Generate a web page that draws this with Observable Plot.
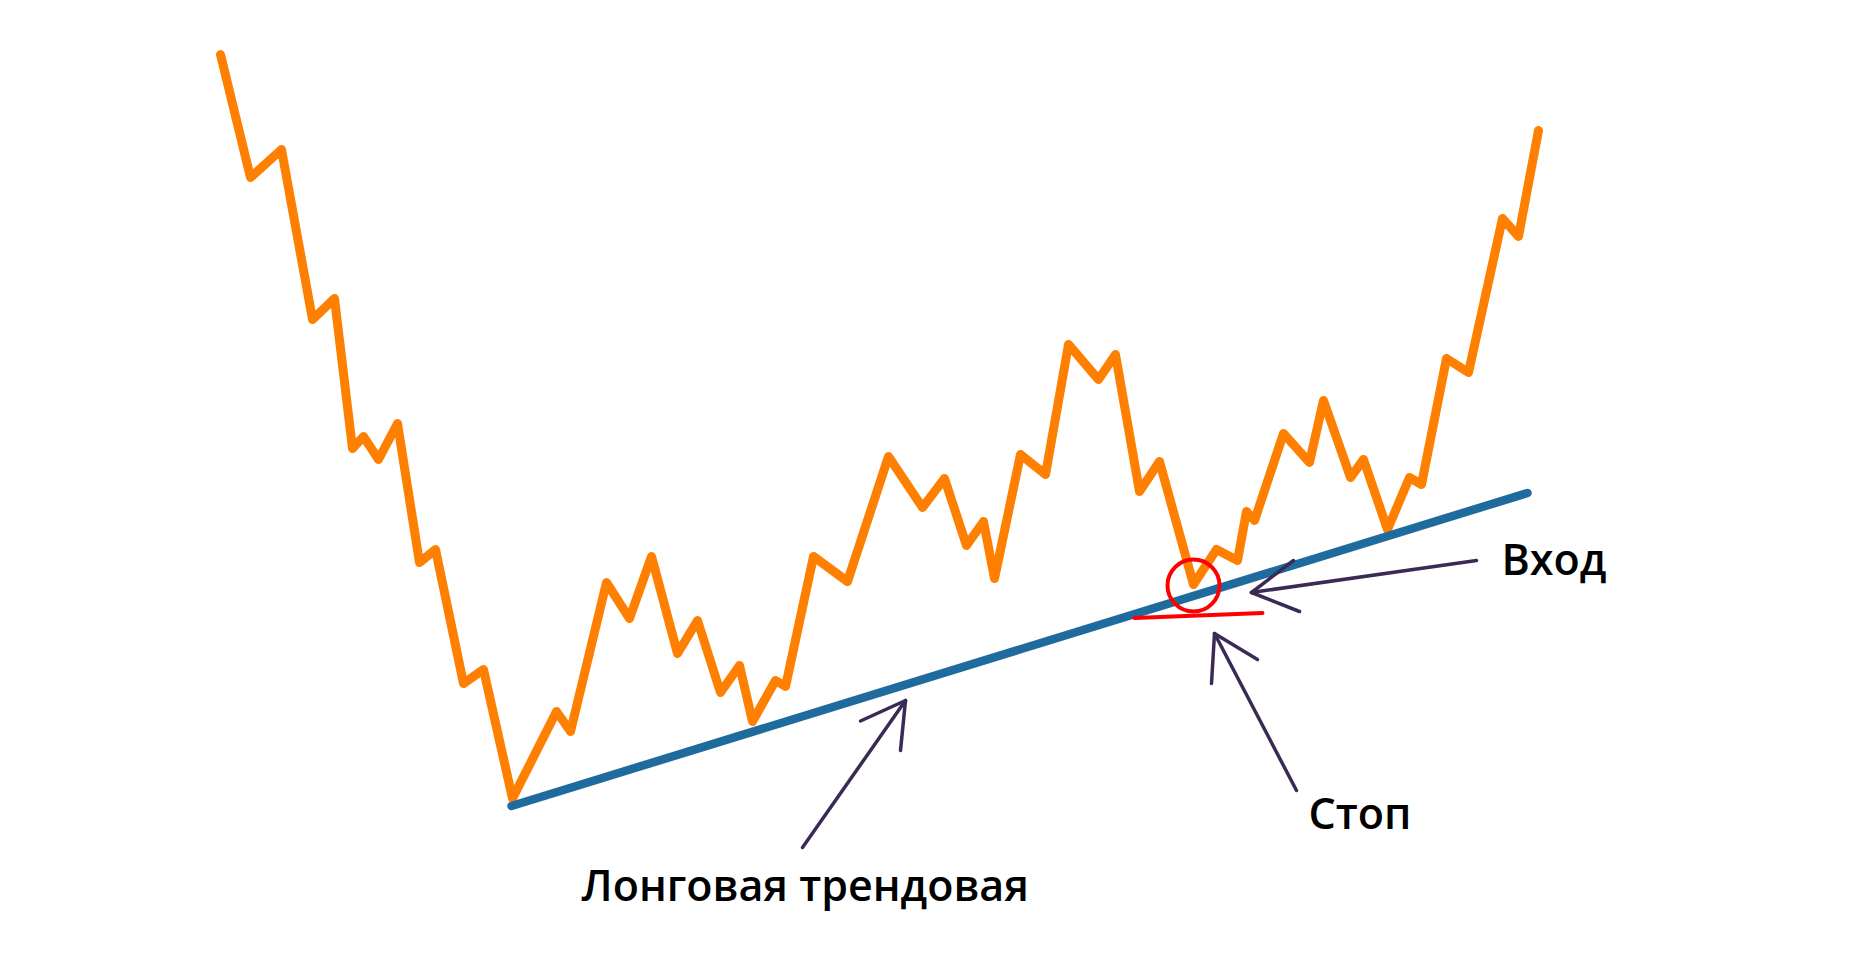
<!DOCTYPE html>
<html>
<head>
<meta charset="utf-8">
<script src="https://cdn.jsdelivr.net/npm/d3@7"></script>
<script src="https://cdn.jsdelivr.net/npm/@observablehq/plot@0.6"></script>
<style>
  html, body { margin: 0; padding: 0; background: #fff; }
  #chart { width: 1852px; height: 961px; }
</style>
</head>
<body>
<div id="chart"></div>
<script>
// Price path (time, price)
const priceTime = [220, 250, 281, 312, 334, 352, 363, 378, 397, 419, 435, 463, 483, 512, 556, 570, 606, 629, 651, 677, 697, 720, 739, 752, 775, 785, 813, 847, 888, 922, 944, 966, 983, 994, 1020, 1045, 1068, 1098, 1115, 1139, 1159, 1193, 1216, 1237, 1246, 1254, 1283, 1309, 1323, 1350, 1363, 1387, 1409, 1421, 1446, 1468, 1502, 1518, 1538];
const priceValue = [907, 784, 812, 642, 663, 513, 525, 502, 538, 399, 412, 278, 292, 163, 250, 230, 379, 343, 405, 308, 341, 269, 296, 240, 281, 275, 405, 380, 505, 454, 483, 416, 440, 383, 507, 487, 617, 582, 607, 470, 500, 377, 412, 401, 450, 441, 528, 499, 561, 484, 502, 432, 484, 477, 603, 589, 743, 725, 831];

// Long trend line (two anchor points)
const trendTime = [511, 1527];
const trendValue = [155.5, 468.5];

// Stop level (red line) and entry marker (red circle)
const stopTime = [1134, 1262];
const stopValue = [343.5, 348.5];
const entryTime = [1193];
const entryValue = [376];

// Arrow segments: [x1, y1, x2, y2]
const arrowSegments = [
  // arrow to trend line
  [802, 114, 905, 261], [905, 261, 860, 240.5], [905, 261, 900, 211],
  // arrow to stop
  [1296, 171, 1214, 328], [1214, 328, 1257, 302], [1214, 328, 1211, 278],
  // arrow to entry
  [1476, 401, 1251, 369], [1251, 369, 1293, 401], [1251, 369, 1299, 350]
];

// Labels
const labelText = ["Лонговая трендовая", "Стоп", "Вход"];
const labelTime = [581, 1308, 1501];
const labelValue = [74, 146.5, 400];

const price = priceTime.map((t, i) => ({t, v: priceValue[i]}));
const trend = trendTime.map((t, i) => ({t, v: trendValue[i]}));
const stop = stopTime.map((t, i) => ({t, v: stopValue[i]}));
const entry = entryTime.map((t, i) => ({t, v: entryValue[i]}));
const arrows = arrowSegments.map(([x1, y1, x2, y2]) => ({x1, y1, x2, y2}));
const labels = labelText.map((s, i) => ({s, t: labelTime[i], v: labelValue[i]}));

const chart = Plot.plot({
  width: 1852,
  height: 961,
  margin: 0,
  x: {domain: [0, 1852], axis: null},
  y: {domain: [0, 961], axis: null},
  style: {background: "#fff", fontFamily: "'Open Sans', 'Noto Sans', sans-serif"},
  marks: [
    Plot.line(price, {x: "t", y: "v", stroke: "#ff7f00", strokeWidth: 9, strokeLinejoin: "round", strokeLinecap: "round"}),
    Plot.line(trend, {x: "t", y: "v", stroke: "#1f6b9e", strokeWidth: 8.5, strokeLinecap: "round"}),
    Plot.dot(entry, {x: "t", y: "v", r: 26, stroke: "#ff0000", strokeWidth: 4, fill: "none"}),
    Plot.line(stop, {x: "t", y: "v", stroke: "#ff0000", strokeWidth: 4, strokeLinecap: "round"}),
    Plot.link(arrows, {x1: "x1", y1: "y1", x2: "x2", y2: "y2", stroke: "#3b2a55", strokeWidth: 3.5, strokeLinecap: "round"}),
    Plot.text(labels, {x: "t", y: "v", text: "s", textAnchor: "start", lineAnchor: "middle", fontSize: 43, fontWeight: 600, fill: "#000"})
  ]
});
document.getElementById("chart").appendChild(chart);
</script>
</body>
</html>
